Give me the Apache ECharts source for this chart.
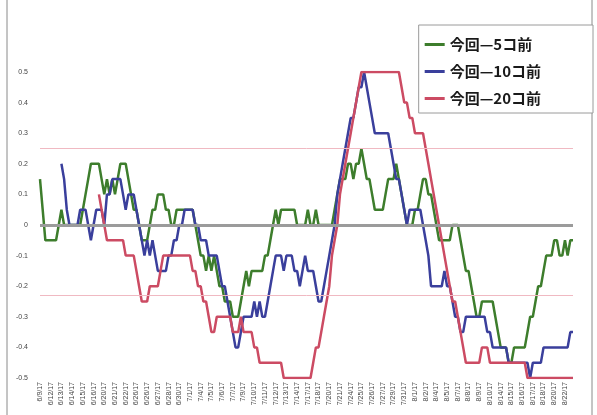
<!DOCTYPE html>
<html>
<head>
<meta charset="utf-8">
<script src="https://cdn.jsdelivr.net/npm/echarts@6/dist/echarts.min.js"></script>
<style>
  html, body { margin: 0; padding: 0; background: #fff; }
  #main { width: 597px; height: 415px; }
</style>
</head>
<body>
<div id="main"></div>
<script>
// x軸ラベル（4点ごとに表示）
var dateLabels = ['6/9/17','6/12/17','6/13/17','6/14/17','6/15/17','6/16/17','6/20/17','6/21/17','6/22/17','6/26/17',
  '6/26/17','6/27/17','6/28/17','6/30/17','7/1/17','7/4/17','7/5/17','7/6/17','7/7/17','7/9/17',
  '7/10/17','7/11/17','7/12/17','7/13/17','7/14/17','7/17/17','7/18/17','7/20/17','7/21/17','7/24/17',
  '7/25/17','7/26/17','7/27/17','7/29/17','7/31/17','8/1/17','8/2/17','8/4/17','8/5/17','8/7/17',
  '8/8/17','8/9/17','8/10/17','8/14/17','8/15/17','8/16/17','8/17/17','8/18/17','8/20/17','8/22/17'];
var pointsPerLabel = 4;

var seriesNames = ['今回—5コ前', '今回—10コ前', '今回—20コ前'];

var diff5 = [
  0.15, 0.05, -0.05, -0.05, -0.05, -0.05, -0.05, 0, 0.05, 0,
  0, 0, 0, 0, 0, 0, 0.05, 0.1, 0.15, 0.2,
  0.2, 0.2, 0.2, 0.15, 0.1, 0.15, 0.1, 0.15, 0.1, 0.15,
  0.2, 0.2, 0.2, 0.15, 0.1, 0.05, 0.05, 0, -0.05, -0.05,
  -0.05, 0, 0.05, 0.05, 0.1, 0.1, 0.1, 0.05, 0.05, 0,
  0, 0.05, 0.05, 0.05, 0.05, 0.05, 0.05, 0.05, 0, -0.05,
  -0.1, -0.1, -0.15, -0.1, -0.15, -0.1, -0.15, -0.2, -0.2, -0.25,
  -0.25, -0.25, -0.3, -0.3, -0.3, -0.25, -0.2, -0.15, -0.2, -0.15,
  -0.15, -0.15, -0.15, -0.15, -0.1, -0.1, -0.05, 0, 0.05, 0,
  0.05, 0.05, 0.05, 0.05, 0.05, 0.05, 0, 0, 0, 0,
  0.05, 0, 0, 0.05, 0, 0, 0, 0, 0, 0,
  0.05, 0.1, 0.15, 0.15, 0.15, 0.2, 0.2, 0.15, 0.2, 0.2,
  0.25, 0.2, 0.15, 0.15, 0.1, 0.05, 0.05, 0.05, 0.05, 0.1,
  0.15, 0.15, 0.15, 0.2, 0.15, 0.1, 0.05, 0, 0, 0,
  0.05, 0.05, 0.1, 0.15, 0.15, 0.1, 0.1, 0.05, 0, -0.05,
  -0.05, -0.05, -0.05, -0.05, 0, 0, 0, -0.05, -0.1, -0.15,
  -0.15, -0.2, -0.25, -0.3, -0.3, -0.25, -0.25, -0.25, -0.25, -0.25,
  -0.3, -0.35, -0.4, -0.4, -0.4, -0.45, -0.45, -0.4, -0.4, -0.4,
  -0.4, -0.4, -0.35, -0.3, -0.3, -0.25, -0.2, -0.2, -0.15, -0.1,
  -0.1, -0.1, -0.05, -0.05, -0.1, -0.1, -0.05, -0.1, -0.05, -0.05
];

var diff10 = [
  '-', '-', '-', '-', '-', '-', '-', '-', 0.2, 0.15,
  0.05, 0, 0, 0, 0, 0.05, 0.05, 0.05, 0, -0.05,
  0, 0.05, 0.05, 0.05, 0, 0.1, 0.1, 0.15, 0.15, 0.15,
  0.15, 0.1, 0.05, 0.1, 0.1, 0.1, 0.05, 0, -0.05, -0.1,
  -0.05, -0.1, -0.05, -0.1, -0.15, -0.15, -0.15, -0.15, -0.1, -0.1,
  -0.05, -0.05, 0, 0, 0.05, 0.05, 0.05, 0.05, 0, 0,
  -0.05, -0.05, -0.05, -0.1, -0.1, -0.1, -0.1, -0.15, -0.2, -0.2,
  -0.25, -0.3, -0.35, -0.4, -0.4, -0.35, -0.3, -0.3, -0.3, -0.3,
  -0.25, -0.3, -0.25, -0.3, -0.3, -0.25, -0.2, -0.15, -0.1, -0.1,
  -0.1, -0.15, -0.1, -0.1, -0.1, -0.15, -0.15, -0.2, -0.15, -0.1,
  -0.15, -0.15, -0.15, -0.2, -0.25, -0.25, -0.2, -0.15, -0.1, -0.05,
  0, 0.1, 0.15, 0.2, 0.25, 0.3, 0.35, 0.35, 0.4, 0.45,
  0.45, 0.5, 0.45, 0.4, 0.35, 0.3, 0.3, 0.3, 0.3, 0.3,
  0.3, 0.25, 0.2, 0.15, 0.15, 0.1, 0.05, 0, 0.05, 0.05,
  0.05, 0.05, 0.05, 0, -0.05, -0.1, -0.2, -0.2, -0.2, -0.2,
  -0.2, -0.15, -0.2, -0.2, -0.25, -0.3, -0.3, -0.35, -0.35, -0.3,
  -0.3, -0.3, -0.3, -0.3, -0.3, -0.3, -0.3, -0.35, -0.35, -0.4,
  -0.4, -0.4, -0.4, -0.4, -0.4, -0.45, -0.45, -0.45, -0.45, -0.45,
  -0.45, -0.45, -0.45, -0.5, -0.45, -0.45, -0.45, -0.45, -0.4, -0.4,
  -0.4, -0.4, -0.4, -0.4, -0.4, -0.4, -0.4, -0.4, -0.35, -0.35
];

var diff20 = [
  '-', '-', '-', '-', '-', '-', '-', '-', '-', '-',
  '-', '-', '-', '-', '-', '-', '-', '-', '-', '-',
  '-', '-', 0.1, 0.05, 0, -0.05, -0.05, -0.05, -0.05, -0.05,
  -0.05, -0.05, -0.1, -0.1, -0.1, -0.1, -0.15, -0.2, -0.25, -0.25,
  -0.25, -0.2, -0.2, -0.2, -0.2, -0.15, -0.1, -0.1, -0.1, -0.1,
  -0.1, -0.1, -0.1, -0.1, -0.1, -0.1, -0.1, -0.15, -0.15, -0.2,
  -0.2, -0.25, -0.25, -0.3, -0.35, -0.35, -0.3, -0.3, -0.3, -0.3,
  -0.3, -0.3, -0.35, -0.35, -0.35, -0.3, -0.35, -0.35, -0.35, -0.35,
  -0.4, -0.4, -0.45, -0.45, -0.45, -0.45, -0.45, -0.45, -0.45, -0.45,
  -0.45, -0.5, -0.5, -0.5, -0.5, -0.5, -0.5, -0.5, -0.5, -0.5,
  -0.5, -0.5, -0.45, -0.4, -0.4, -0.35, -0.3, -0.25, -0.2, -0.1,
  -0.05, 0, 0.1, 0.15, 0.2, 0.25, 0.3, 0.35, 0.4, 0.45,
  0.5, 0.5, 0.5, 0.5, 0.5, 0.5, 0.5, 0.5, 0.5, 0.5,
  0.5, 0.5, 0.5, 0.5, 0.5, 0.45, 0.4, 0.4, 0.35, 0.35,
  0.3, 0.3, 0.3, 0.3, 0.25, 0.2, 0.15, 0.1, 0.05, 0,
  -0.05, -0.1, -0.15, -0.2, -0.25, -0.25, -0.3, -0.35, -0.4, -0.45,
  -0.45, -0.45, -0.45, -0.45, -0.45, -0.4, -0.4, -0.4, -0.45, -0.45,
  -0.45, -0.45, -0.45, -0.45, -0.45, -0.45, -0.45, -0.45, -0.45, -0.45,
  -0.45, -0.45, -0.5, -0.5, -0.5, -0.5, -0.5, -0.5, -0.5, -0.5,
  -0.5, -0.5, -0.5, -0.5, -0.5, -0.5, -0.5, -0.5, -0.5, -0.5
];

// 基準線
var zeroLine = 0;
var upperBand = 0.25;
var lowerBand = -0.23;

var categories = [];
dateLabels.forEach(function (d) {
  for (var k = 0; k < pointsPerLabel; k++) categories.push(d);
});

var colors = ['#3d7d2c', '#3a3f9c', '#cc4b63'];

var chart = echarts.init(document.getElementById('main'), null, { renderer: 'canvas' });

var lineSeries = function (name, data, color) {
  return {
    name: name,
    type: 'line',
    data: data,
    showSymbol: false,
    symbol: 'none',
    lineStyle: { color: color, width: 2.5 },
    itemStyle: { color: color }
  };
};

var s3 = lineSeries(seriesNames[2], diff20, colors[2]);
s3.markLine = {
  silent: true,
  symbol: ['none', 'none'],
  label: { show: false },
  data: [
    { yAxis: upperBand, lineStyle: { color: '#f0b9c2', width: 1, type: 'solid' } },
    { yAxis: lowerBand, lineStyle: { color: '#f0b9c2', width: 1, type: 'solid' } },
    { yAxis: zeroLine, lineStyle: { color: '#9b9b9b', width: 3, type: 'solid' } }
  ]
};

var option = {
  animation: false,
  backgroundColor: '#fff',
  textStyle: { fontFamily: 'Liberation Sans, Noto Sans, sans-serif' },
  grid: { left: 40, right: 24, top: 72, bottom: 37 },
  legend: {
    data: seriesNames,
    orient: 'vertical',
    right: 4,
    top: 25,
    icon: 'rect',
    itemWidth: 20,
    itemHeight: 3,
    itemGap: 10,
    padding: [11, 52, 6, 6],
    borderColor: '#9a9a9a',
    borderWidth: 1,
    backgroundColor: '#fff',
    textStyle: {
      fontFamily: 'Noto Sans CJK JP',
      fontWeight: 'bold',
      fontSize: 15,
      lineHeight: 17,
      color: '#1a1a1a'
    }
  },
  xAxis: {
    type: 'category',
    data: categories,
    boundaryGap: false,
    axisLine: { show: false },
    axisTick: { show: false },
    splitLine: { show: false },
    axisLabel: {
      interval: pointsPerLabel - 1,
      rotate: 90,
      fontSize: 7,
      color: '#444',
      margin: 4
    }
  },
  yAxis: {
    type: 'value',
    min: -0.5,
    max: 0.5,
    interval: 0.1,
    axisLine: { show: false },
    axisTick: { show: false },
    splitLine: { show: false },
    axisLabel: {
      fontSize: 7,
      color: '#444',
      margin: 12,
      formatter: function (v) { return String(Math.round(v * 10) / 10); }
    }
  },
  graphic: [{
    type: 'rect',
    silent: true,
    shape: { x: 7, y: -5, width: 585, height: 430 },
    style: { fill: 'none', stroke: '#8a8a8a', lineWidth: 1 }
  }],
  series: [
    lineSeries(seriesNames[0], diff5, colors[0]),
    lineSeries(seriesNames[1], diff10, colors[1]),
    s3
  ]
};

chart.setOption(option);
</script>
</body>
</html>
